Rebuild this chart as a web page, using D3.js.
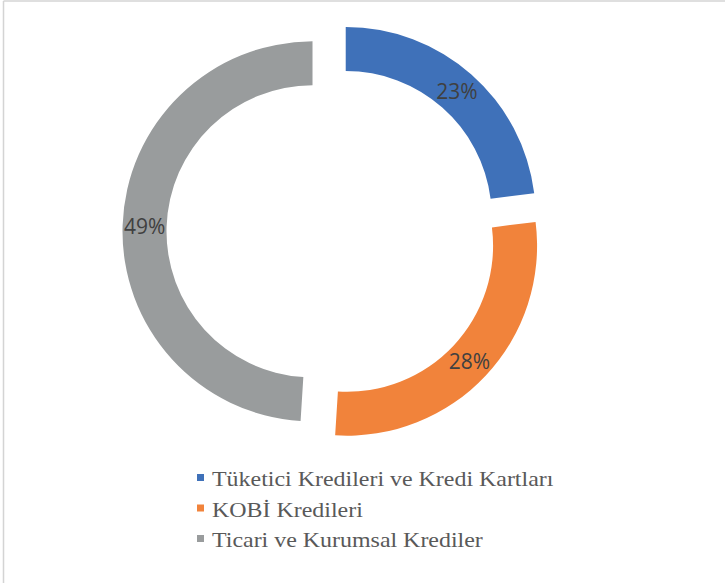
<!DOCTYPE html>
<html>
<head>
<meta charset="utf-8">
<script src="https://cdn.jsdelivr.net/npm/d3@7"></script>
<style>
  body { margin: 0; background: #fff; }
  svg { display: block; }
</style>
</head>
<body>
<svg></svg>
<script>
// data
const categories = ["Tüketici Kredileri ve Kredi Kartları", "KOBİ Kredileri", "Ticari ve Kurumsal Krediler"];
const shares = [23, 28, 49];

const width = 725;
const height = 583;
const svg = d3.select("svg")
    .attr("width", width)
    .attr("height", height);

// chart border (only top + left visible in the crop)
svg.append("line").attr("x1", 3.5).attr("y1", 1).attr("x2", 3.5).attr("y2", height)
    .attr("stroke", "#d4d4d4").attr("stroke-width", 1.5);
svg.append("line").attr("x1", 3.5).attr("y1", 1).attr("x2", width).attr("y2", 1)
    .attr("stroke", "#d4d4d4").attr("stroke-width", 1.5);

const color = d3.scaleOrdinal()
    .domain(categories)
    .range(["#3f71b9", "#f1833b", "#999c9d"]);

// donut geometry
const cx = 332.5, cy = 232;
const outerR = 190, innerR = 146;
const explode = 20;

const pie = d3.pie().sort(null).value(d => d.value);
const arcs = pie(categories.map((c, i) => ({ name: c, value: shares[i] })));

const arc = d3.arc().innerRadius(innerR).outerRadius(outerR);

const g = svg.append("g").attr("transform", `translate(${cx},${cy})`);

const slices = g.selectAll(".slice")
    .data(arcs)
    .enter()
    .append("g")
    .attr("class", "slice")
    .attr("transform", d => {
        const a = (d.startAngle + d.endAngle) / 2;
        return `translate(${explode * Math.sin(a)},${-explode * Math.cos(a)})`;
    });

slices.append("path")
    .attr("d", arc)
    .attr("fill", d => color(d.data.name));

// labels sit in the middle of the ring
const midR = (innerR + outerR) / 2;
slices.append("text")
    .attr("x", d => midR * Math.sin((d.startAngle + d.endAngle) / 2))
    .attr("y", d => -midR * Math.cos((d.startAngle + d.endAngle) / 2))
    .attr("text-anchor", "middle")
    .attr("dominant-baseline", "central")
    .attr("font-family", "'Open Sans', sans-serif")
    .attr("font-size", 21)
    .attr("fill", "#404040")
    .text(d => d.data.value + "%");

// legend
const legend = svg.append("g").attr("transform", "translate(197,486)");
const rows = legend.selectAll(".row")
    .data(categories)
    .enter()
    .append("g")
    .attr("class", "row")
    .attr("transform", (d, i) => `translate(0,${i * 30.5})`);

rows.append("rect")
    .attr("x", 0)
    .attr("y", -12)
    .attr("width", 7)
    .attr("height", 7)
    .attr("fill", d => color(d));

// the legend text in the picture is a bit wider than plain Times
rows.append("text")
    .attr("transform", "translate(15,0) scale(1.14,1)")
    .attr("font-family", "'Liberation Serif', 'Times New Roman', serif")
    .attr("font-size", 21)
    .attr("fill", "#595959")
    .text(d => d);
</script>
</body>
</html>
